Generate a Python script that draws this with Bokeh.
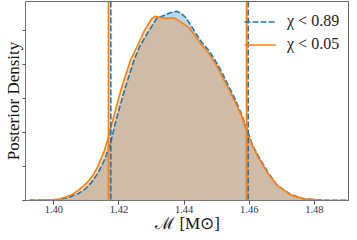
from bokeh.plotting import figure
from bokeh.models import (Span, Legend, LegendItem, FixedTicker, NumeralTickFormatter,
                          CustomJSTickFormatter, Title)
from bokeh.embed import file_html
from bokeh.resources import INLINE

# Posterior density of chirp mass, chi < 0.05 (orange)
orange_x = [1.3925, 1.3955, 1.4000, 1.4015, 1.4035, 1.4055, 1.4075, 1.4095, 1.4105, 1.4120,
            1.4135, 1.4155, 1.4165, 1.4186, 1.4205, 1.4235, 1.4256, 1.4276, 1.4301, 1.4310,
            1.4325, 1.4346, 1.4366, 1.4376, 1.4394, 1.4415, 1.4436, 1.4454, 1.4475, 1.4496,
            1.4516, 1.4535, 1.4556, 1.4577, 1.4587, 1.4601, 1.4626, 1.4656, 1.4686, 1.4727,
            1.4767, 1.4827, 1.4908]
orange_y = [0.03, 0.07, 0.14, 0.21, 0.47, 0.85, 1.5, 2.3, 2.8, 3.7,
            5.0, 7.3, 8.9, 12.7, 16.1, 20.6, 22.7, 24.8, 26.8, 27.1,
            26.95, 26.8, 26.9, 26.7, 26.15, 25.45, 24.1, 22.9, 21.7, 20.14,
            18.33, 16.57, 14.57, 12.43, 10.9, 9.0, 6.5, 4.1, 2.2, 0.86,
            0.24, 0.04, 0.01]

# chi < 0.89 (blue)
blue_x = [1.3925, 1.3955, 1.4000, 1.4015, 1.4045, 1.4075, 1.4095, 1.4114, 1.4135, 1.4155,
          1.4174, 1.4189, 1.4215, 1.4245, 1.4264, 1.4286, 1.4316, 1.4336, 1.4355, 1.4376,
          1.4391, 1.4406, 1.4436, 1.4454, 1.4475, 1.4496, 1.4516, 1.4535, 1.4556, 1.4577,
          1.4593, 1.4608, 1.4626, 1.4656, 1.4686, 1.4727, 1.4767, 1.4827, 1.4908]
blue_y = [0.03, 0.06, 0.1, 0.14, 0.43, 1.0, 1.65, 2.55, 4.0, 5.9,
          8.4, 11.4, 15.9, 20.5, 22.7, 24.5, 26.8, 27.2, 27.6, 27.85,
          27.55, 26.9, 24.6, 23.3, 22.14, 20.57, 18.86, 17.0, 15.0, 12.6,
          10.5, 8.4, 6.7, 4.25, 2.25, 0.88, 0.25, 0.04, 0.01]

# 90% credible bounds
orange_bounds = [1.4168, 1.4592]
blue_bounds = [1.4175, 1.4597]

x_ticks = [1.40, 1.42, 1.44, 1.46, 1.48]
y_ticks = [0, 5, 10, 15, 20, 25]
labels = ["\u03c7 < 0.89", "\u03c7 < 0.05"]
x_title = "\u2133 [M\u2299]"
y_title = "Posterior Density"

BLUE = "#1f77b4"
ORANGE = "#ff7f0e"
SERIF = "Liberation Serif"

p = figure(width=349, height=232, x_range=(1.3913, 1.4908), y_range=(0, 29.29),
           output_backend="svg", toolbar_location=None,
           min_border_left=18, min_border_right=0, min_border_top=1, min_border_bottom=0)

p.xgrid.visible = False
p.ygrid.visible = False
p.outline_line_color = "#666666"
p.background_fill_color = "white"

p.varea(x=blue_x, y1=0, y2=blue_y, fill_color=BLUE, fill_alpha=0.3)
p.varea(x=orange_x, y1=0, y2=orange_y, fill_color=ORANGE, fill_alpha=0.3)
rb = p.line(blue_x, blue_y, line_color=BLUE, line_width=1.6, line_dash="6 2")
ro = p.line(orange_x, orange_y, line_color=ORANGE, line_width=1.6)

for b in orange_bounds:
    p.add_layout(Span(location=b, dimension="height", line_color=ORANGE, line_width=1.8))
for b in blue_bounds:
    p.add_layout(Span(location=b, dimension="height", line_color=BLUE, line_width=1.6, line_dash="6 2"))

# axes
xa = p.xaxis[0]
xa.ticker = FixedTicker(ticks=x_ticks)
xa.formatter = NumeralTickFormatter(format="0.00")
xa.minor_tick_line_color = None
xa.major_tick_in = 0
xa.major_tick_out = 4
xa.axis_line_color = "#777777"
xa.major_tick_line_color = "#555555"
xa.major_label_text_font = SERIF
xa.major_label_text_font_size = "10.5px"
xa.major_label_text_color = "#333333"
xa.major_label_standoff = 1

ya = p.yaxis[0]
ya.ticker = FixedTicker(ticks=y_ticks)
ya.formatter = CustomJSTickFormatter(code="return ''")
ya.minor_tick_line_color = None
ya.major_tick_in = 0
ya.major_tick_out = 3
ya.axis_line_color = "#777777"
ya.major_tick_line_color = "#555555"
ya.major_label_standoff = 0
ya.axis_label = y_title
ya.axis_label_text_font = SERIF
ya.axis_label_text_font_style = "normal"
ya.axis_label_text_font_size = "17px"
ya.axis_label_text_color = "#111111"
ya.axis_label_standoff = 0

# x-axis title in the panel under the tick labels
p.add_layout(Title(text=x_title, align="center", vertical_align="top", standoff=-4,
                   text_font=SERIF, text_font_style="normal", text_font_size="17px",
                   text_color="#111111"), "below")

legend = Legend(items=[LegendItem(label=labels[0], renderers=[rb]),
                       LegendItem(label=labels[1], renderers=[ro])],
                location=(219, 147), margin=0, padding=0, spacing=5,
                glyph_width=32, glyph_height=17, label_height=17, label_width=61,
                label_standoff=11, border_line_color=None, background_fill_alpha=0,
                label_text_font=SERIF, label_text_font_size="16px",
                label_text_color="#222222")
p.add_layout(legend)

open("out.html", "w").write(file_html(p, INLINE))
